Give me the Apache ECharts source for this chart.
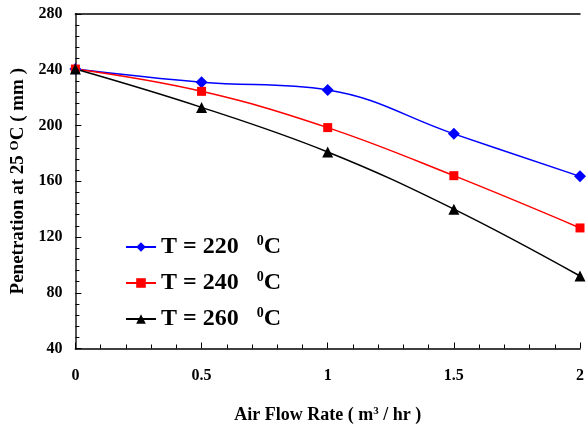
<!DOCTYPE html>
<html>
<head>
<meta charset="utf-8">
<script src="https://cdn.jsdelivr.net/npm/echarts@6/dist/echarts.min.js"></script>
<style>
html, body { margin: 0; padding: 0; background: #fff; }
#main { width: 587px; height: 429px; }
</style>
</head>
<body>
<div id="main"></div>
<script>
var flowRate = [0, 0.5, 1, 1.5, 2];
var temps = ['220', '240', '260'];
var pen220 = [240.5, 231, 225.5, 194, 163.5];
var pen240 = [240.5, 224.5, 198.5, 164, 126.5];
var pen260 = [240.5, 213, 181, 140, 92];

var chart = echarts.init(document.getElementById('main'));
var serif = 'Liberation Serif';

function pairs(ys) {
    return flowRate.map(function (x, i) { return [x, ys[i]]; });
}

var option = {
    animation: false,
    grid: { left: 75, right: 3, top: 14, bottom: 77 },
    legend: {
        orient: 'vertical',
        left: 120,
        top: 229,
        itemGap: 11,
        itemWidth: 30,
        itemHeight: 12,
        data: temps.map(function (t) { return 'T = ' + t; }),
        formatter: function (name) {
            return '{a|' + name + '}   {s|0}{a|C}';
        },
        textStyle: {
            fontFamily: serif,
            fontWeight: 'bold',
            fontSize: 24,
            color: '#000',
            rich: {
                a: { fontFamily: serif, fontWeight: 'bold', fontSize: 24, lineHeight: 26, color: '#000' },
                s: { fontFamily: serif, fontWeight: 'bold', fontSize: 14, color: '#000', verticalAlign: 'top', padding: [0, 0, 12, 0] }
            }
        }
    },
    xAxis: [{
        type: 'value',
        min: 0,
        max: 2,
        interval: 0.5,
        name: '{a|Air Flow Rate ( m}{s|3}{a| / hr )}',
        nameLocation: 'middle',
        nameGap: 57,
        nameTextStyle: {
            rich: {
                a: { fontFamily: serif, fontWeight: 'bold', fontSize: 18, color: '#000' },
                s: { fontFamily: serif, fontWeight: 'bold', fontSize: 11, color: '#000', verticalAlign: 'top', padding: [0, 0, 8, 0] }
            }
        },
        axisLine: { lineStyle: { color: '#000', width: 1.5 } },
        axisTick: { inside: true, length: 6, lineStyle: { color: '#000' } },
        minorTick: { show: true, splitNumber: 5, length: 4, lineStyle: { color: '#000' } },
        splitLine: { show: false },
        axisLabel: {
            margin: 19,
            fontFamily: serif,
            fontWeight: 'bold',
            fontSize: 16,
            color: '#000',
            formatter: function (v) { return String(v); }
        }
    }, {
        type: 'value',
        position: 'top',
        min: 0,
        max: 2,
        axisLine: { show: true, lineStyle: { color: '#000', width: 1.5 } },
        axisTick: { show: false },
        axisLabel: { show: false },
        splitLine: { show: false }
    }],
    yAxis: [{
        type: 'value',
        min: 40,
        max: 280,
        interval: 40,
        name: '{a|Penetration at 25 }{s|O}{a|C ( mm )}',
        nameLocation: 'middle',
        nameGap: 47,
        nameTextStyle: {
            rich: {
                a: { fontFamily: serif, fontWeight: 'bold', fontSize: 19, color: '#000' },
                s: { fontFamily: serif, fontWeight: 'bold', fontSize: 13, color: '#000', verticalAlign: 'top', padding: [0, 0, 7, 0] }
            }
        },
        axisLine: { show: true, lineStyle: { color: '#000', width: 1.5 } },
        axisTick: { show: true, inside: true, length: 6, lineStyle: { color: '#000' } },
        minorTick: { show: true, splitNumber: 5, length: 4, lineStyle: { color: '#000' } },
        splitLine: { show: false },
        axisLabel: {
            margin: 13,
            fontFamily: serif,
            fontWeight: 'bold',
            fontSize: 16,
            color: '#000'
        }
    }, {
        type: 'value',
        position: 'right',
        min: 40,
        max: 280,
        axisLine: { show: true, lineStyle: { color: '#555', width: 2 } },
        axisTick: { show: false },
        axisLabel: { show: false },
        splitLine: { show: false }
    }],
    series: [{
        name: 'T = 220',
        type: 'line',
        data: pairs(pen220),
        smooth: 0.4,
        symbol: 'diamond',
        symbolSize: 12,
        color: '#0000ff',
        lineStyle: { width: 1.5, color: '#0000ff' },
        clip: false
    }, {
        name: 'T = 240',
        type: 'line',
        data: pairs(pen240),
        smooth: 0.4,
        symbol: 'rect',
        symbolSize: 9,
        color: '#ff0000',
        lineStyle: { width: 1.5, color: '#ff0000' },
        clip: false
    }, {
        name: 'T = 260',
        type: 'line',
        data: pairs(pen260),
        smooth: 0.4,
        symbol: 'triangle',
        symbolSize: 11,
        color: '#000000',
        lineStyle: { width: 1.5, color: '#000000' },
        clip: false
    }]
};

chart.setOption(option);
</script>
</body>
</html>
